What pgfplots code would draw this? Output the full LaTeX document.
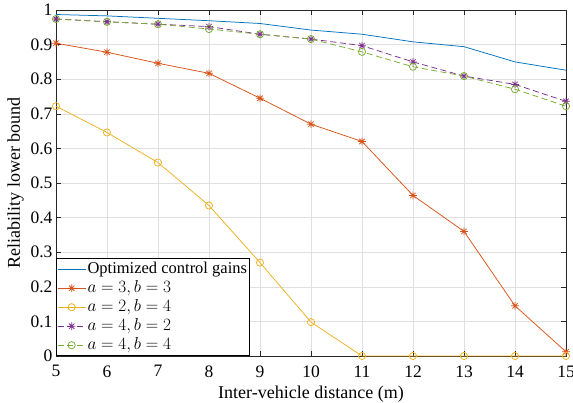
\documentclass[border=0pt]{standalone}
\usepackage{pgfplots}
\pgfplotsset{compat=1.18}
\usepackage{fontspec}
\setmainfont{Liberation Serif}
\definecolor{mblue}{rgb}{0,0.447,0.741}
\definecolor{morange}{rgb}{0.85,0.325,0.098}
\definecolor{myellow}{rgb}{0.929,0.694,0.125}
\definecolor{mpurple}{rgb}{0.494,0.184,0.556}
\definecolor{mgreen}{rgb}{0.466,0.674,0.188}
\pgfdeclareplotmark{mstar}{%
 \pgfpathmoveto{\pgfqpoint{-\pgfplotmarksize}{0pt}}\pgfpathlineto{\pgfqpoint{\pgfplotmarksize}{0pt}}%
 \pgfpathmoveto{\pgfqpoint{0pt}{-\pgfplotmarksize}}\pgfpathlineto{\pgfqpoint{0pt}{\pgfplotmarksize}}%
 \pgfpathmoveto{\pgfqpoint{-0.707\pgfplotmarksize}{-0.707\pgfplotmarksize}}\pgfpathlineto{\pgfqpoint{0.707\pgfplotmarksize}{0.707\pgfplotmarksize}}%
 \pgfpathmoveto{\pgfqpoint{-0.707\pgfplotmarksize}{0.707\pgfplotmarksize}}\pgfpathlineto{\pgfqpoint{0.707\pgfplotmarksize}{-0.707\pgfplotmarksize}}%
 \pgfusepathqstroke}
\begin{document}
\begin{tikzpicture}
\begin{axis}[
  name=ax,
  scale only axis, width=510pt, height=346pt,
  xmin=5, xmax=15, ymin=0, ymax=1,
  xtick={5,6,7,8,9,10,11,12,13,14,15},
  xticklabels={5,6,7,8,9,10,11,12,13,14,15},
  ytick={0,0.1,0.2,0.3,0.4,0.5,0.6,0.7,0.8,0.9,1},
  yticklabels={0,0.1,0.2,0.3,0.4,0.5,0.6,0.7,0.8,0.9,1},
  /pgf/number format/assume math mode=true,
  grid=major, grid style={black!12, line width=0.5pt},
  axis line style={black!85, line width=0.6pt},
  tick style={black!85, line width=0.6pt}, tick align=inside,
  major tick length=5pt,
  tick label style={font=\fontsize{17.5}{20}\selectfont},
  xticklabel style={yshift=-6pt},
  label style={font=\fontsize{18}{21}\selectfont},
  xlabel={Inter-vehicle distance (m)},
  xlabel style={yshift=-2pt},
  ylabel={Reliability lower bound},
  legend style={at={(0,0)}, anchor=south west, font=\fontsize{16.5}{19}\selectfont,
    draw=black, line width=0.6pt, inner sep=1pt, row sep=0pt,
    nodes={text height=12pt, text depth=4pt, inner sep=1.5pt}},
  legend cell align=left,
  legend image code/.code={\draw[mark repeat=2,mark phase=2] plot coordinates {(0pt,0pt)(14pt,0pt)(28pt,0pt)};},
  every axis plot/.append style={line width=0.75pt},
]
\addplot[mblue, no marks] coordinates {
(5,0.987)(6,0.983)(7,0.976)(8,0.969)(9,0.961)(10,0.942)(11,0.930)(12,0.908)(13,0.894)(14,0.850)(15,0.826)};
\addlegendentry{Optimized control gains}
\addplot[morange, mark=mstar, mark size=3.8pt, mark options={solid}] coordinates {
(5,0.904)(6,0.878)(7,0.846)(8,0.817)(9,0.745)(10,0.670)(11,0.620)(12,0.464)(13,0.360)(14,0.145)(15,0.012)};
\addlegendentry{$a=3,b=3$}
\addplot[myellow, mark=o, mark size=3.6pt, mark options={solid}] coordinates {
(5,0.722)(6,0.646)(7,0.559)(8,0.435)(9,0.270)(10,0.098)(11,0)(12,0)(13,0)(14,0)(15,0)};
\addlegendentry{$a=2,b=4$}
\addplot[mpurple, dash pattern=on 6pt off 3.5pt, mark=mstar, mark size=3.8pt, mark options={solid}] coordinates {
(5,0.974)(6,0.966)(7,0.959)(8,0.952)(9,0.930)(10,0.916)(11,0.897)(12,0.850)(13,0.809)(14,0.785)(15,0.736)};
\addlegendentry{$a=4,b=2$}
\addplot[mgreen, dash pattern=on 6pt off 3.5pt, mark=o, mark size=3.6pt, mark options={solid}] coordinates {
(5,0.974)(6,0.966)(7,0.959)(8,0.945)(9,0.930)(10,0.916)(11,0.879)(12,0.836)(13,0.809)(14,0.771)(15,0.722)};
\addlegendentry{$a=4,b=4$}
\end{axis}
\pgfresetboundingbox
\path[use as bounding box] ([shift={(-56pt,-46pt)}]ax.south west) rectangle ([shift={(7pt,10pt)}]ax.north east);
\end{tikzpicture}
\end{document}
